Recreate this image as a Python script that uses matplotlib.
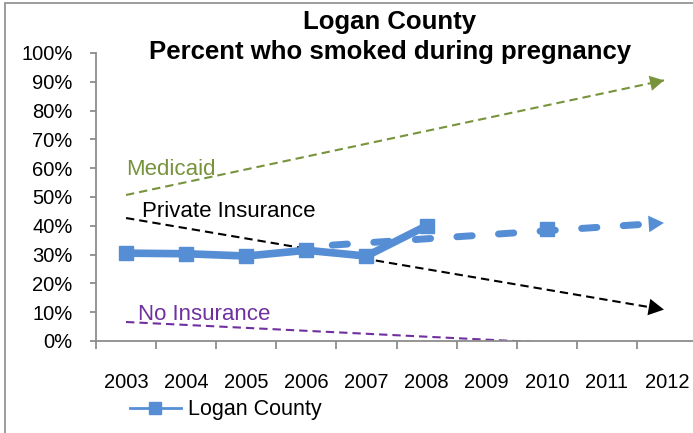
import numpy as np
import matplotlib
matplotlib.use("Agg")
import matplotlib.pyplot as plt
from matplotlib.lines import Line2D
from matplotlib.patches import Rectangle

plt.rcParams['font.family'] = ['Liberation Sans', 'DejaVu Sans']

# ---- data ----
years = [2003, 2004, 2005, 2006, 2007, 2008, 2009, 2010, 2011, 2012]
year_labels = [str(y) for y in years]
logan = [30.5, 30.3, 29.5, 31.5, 29.5, 40.0, np.nan, 38.8, np.nan, np.nan]

trend_logan_x = [2006.43, 2011.95]
trend_logan_y = [33.3, 41.0]
medicaid_x = [2003.0, 2011.95]
medicaid_y = [50.7, 90.5]
private_x = [2003.0, 2011.95]
private_y = [42.7, 10.9]
noins_x = [2003.0, 2012.0]
noins_y = [6.6, -2.6]

title_lines = ["Logan County", "Percent who smoked during pregnancy"]

blue = '#558ED5'
green = '#77933C'
purple = '#7030A0'
grey = '#8C8C8C'

W, H = 693, 433
fig = plt.figure(figsize=(W / 100, H / 100), dpi=100)
ax = fig.add_axes([96 / W, 92 / H, 601 / W, 288 / H])
ax.set_xlim(2002.5, 2012.5)
ax.set_ylim(0, 100)

# thin dashed trend lines
def dashed_arrow(xs, ys, color, lw, dashes, hl, hw, head=True):
    ax.plot(xs, ys, color=color, lw=lw, dashes=dashes, solid_capstyle='butt', zorder=2)
    if head:
        dx = xs[1] - xs[0]
        dy = ys[1] - ys[0]
        t = 0.97
        ax.annotate('', xy=(xs[1], ys[1]), xytext=(xs[0] + t * dx, ys[0] + t * dy),
                    arrowprops=dict(arrowstyle=f'-|>,head_length={hl},head_width={hw}',
                                    mutation_scale=10, lw=0, color=color,
                                    shrinkA=0, shrinkB=0), zorder=3)

dashed_arrow(medicaid_x, medicaid_y, green, 1.5, (4.0, 2.4), 1.0, 0.55)
dashed_arrow(private_x, private_y, 'black', 1.5, (4.0, 2.4), 1.1, 0.6)
ax.plot(noins_x, noins_y, color=purple, lw=1.5, dashes=(4.0, 2.4), zorder=2)

# Logan trend (thick dashed)
ax.plot(trend_logan_x, trend_logan_y, color=blue, lw=5, dashes=(2.2, 3.8),
        dash_capstyle='round', zorder=3)
dx = trend_logan_x[1] - trend_logan_x[0]
dy = trend_logan_y[1] - trend_logan_y[0]
ax.annotate('', xy=(trend_logan_x[1], trend_logan_y[1]),
            xytext=(trend_logan_x[0] + 0.95 * dx, trend_logan_y[0] + 0.95 * dy),
            arrowprops=dict(arrowstyle='-|>,head_length=1.1,head_width=0.6',
                            mutation_scale=10, lw=0, color=blue, shrinkA=0, shrinkB=0),
            zorder=4)

# Logan series
ax.plot(years, logan, color=blue, lw=5.5, marker='s', markersize=10,
        solid_joinstyle='round', solid_capstyle='round', zorder=5)

# annotations
ax.text(2003.0, 59.5, 'Medicaid', color=green, fontsize=16, va='center', ha='left')
ax.text(2003.27, 44.8, 'Private Insurance', color='black', fontsize=16, va='center', ha='left')
ax.text(2003.2, 9.3, 'No Insurance', color=purple, fontsize=16, va='center', ha='left')

# axes styling
for s in ['top', 'right']:
    ax.spines[s].set_visible(False)
for s in ['left', 'bottom']:
    ax.spines[s].set_color(grey)
    ax.spines[s].set_linewidth(1.3)

ax.set_yticks(np.arange(0, 101, 10))
ax.set_yticklabels([f'{v}%' for v in range(0, 101, 10)])
ax.tick_params(axis='y', direction='out', length=4, width=1.3, color=grey,
               labelsize=14.5, pad=13)

ax.set_xticks(np.arange(2002.5, 2013, 1.0))
ax.set_xticklabels([])
ax.set_xticks(years, minor=True)
ax.set_xticklabels(year_labels, minor=True)
ax.tick_params(axis='x', which='major', direction='out', length=6, width=1.3, color=grey)
ax.tick_params(axis='x', which='minor', length=0, labelsize=14.5, pad=23)

# title
fig.text(390 / W, 1 - 22 / H, title_lines[0], ha='center', va='center',
         fontsize=18.5, fontweight='bold')
fig.text(390 / W, 1 - 52 / H, title_lines[1], ha='center', va='center',
         fontsize=18.5, fontweight='bold')

# legend
handle = Line2D([], [], color=blue, lw=2, marker='s', markersize=8)
fig.legend([handle], ['Logan County'], loc='center left',
           bbox_to_anchor=(130 / W, 23 / H), frameon=False, fontsize=15.5,
           handlelength=2.35, handletextpad=0.35, borderpad=0, borderaxespad=0)

# outer frame
fig.patches.append(Rectangle((5 / W, -0.1), 1.2, (H - 3) / H + 0.1,
                             transform=fig.transFigure, fill=False,
                             edgecolor=grey, lw=1.2))

fig.savefig('out.png', dpi=100)
